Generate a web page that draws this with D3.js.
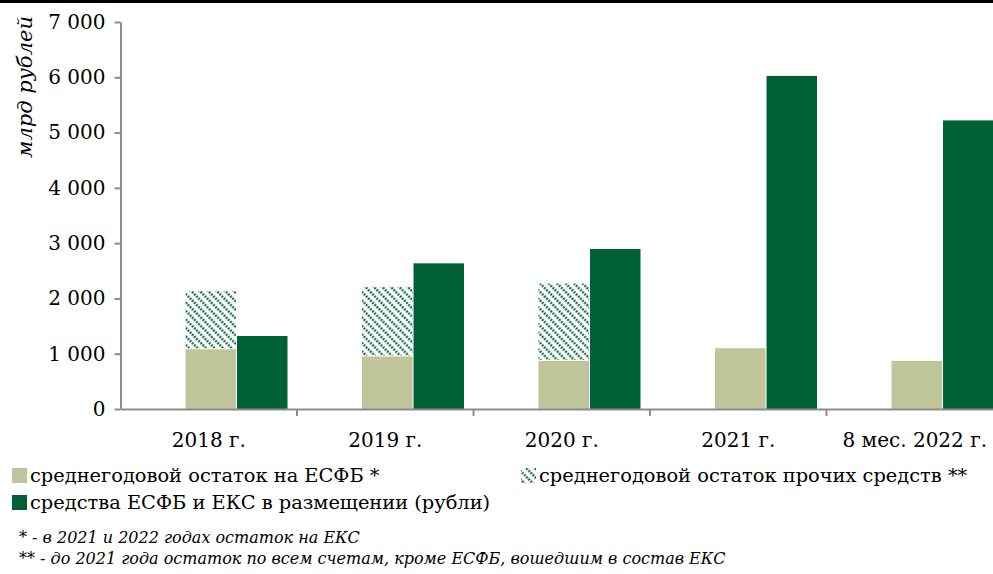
<!DOCTYPE html>
<html>
<head>
<meta charset="utf-8">
<script src="https://cdn.jsdelivr.net/npm/d3@7"></script>
<style>
  body { margin: 0; background: #fff; }
  svg { display: block; font-family: "DejaVu Serif", serif; }
</style>
</head>
<body>
<div id="app"></div>
<script>
// данные
const categories = ["2018 г.", "2019 г.", "2020 г.", "2021 г.", "8 мес. 2022 г."];
const esfbRest = [1080, 950, 870, 1100, 870];        // среднегодовой остаток на ЕСФБ
const otherRest = [1055, 1260, 1400, 0, 0];          // среднегодовой остаток прочих средств
const placement = [1320, 2635, 2895, 6025, 5220];    // средства ЕСФБ и ЕКС в размещении
const yTicks = [0, 1000, 2000, 3000, 4000, 5000, 6000, 7000];

const width = 993, height = 574;
const marginLeft = 120.5, marginTop = 22, marginBottom = 165;
const bandW = 176.5;
const light = "#bfc49b", dark = "#006137", axisCol = "#8c8c8c";

const svg = d3.select("#app").append("svg")
  .attr("width", width).attr("height", height);

// штриховка
const pat = svg.append("defs").append("pattern")
  .attr("id", "hatch")
  .attr("patternUnits", "userSpaceOnUse")
  .attr("width", 6).attr("height", 6)
  .attr("patternTransform", "rotate(-45)");
pat.append("rect").attr("width", 6).attr("height", 6).attr("fill", "#fff");
pat.append("line")
  .attr("x1", 1.5).attr("x2", 1.5).attr("y1", 0).attr("y2", 6)
  .attr("stroke", dark).attr("stroke-width", 2.2)
  .attr("stroke-dasharray", "2 1");

// верхняя линия
svg.append("line")
  .attr("x1", 0).attr("x2", width).attr("y1", 1.5).attr("y2", 1.5)
  .attr("stroke", "#000").attr("stroke-width", 3);

// шкалы
const x = d3.scaleBand()
  .domain(categories)
  .range([marginLeft, marginLeft + bandW * categories.length]);

const xSub = d3.scaleBand()
  .domain(["rest", "place"])
  .range([65, 167])
  .paddingInner(0.02);

const y = d3.scaleLinear()
  .domain([0, 7000])
  .range([height - marginBottom, marginTop]);

const fmt = d3.formatLocale({ decimal: ",", thousands: " ", grouping: [3], currency: ["", ""] }).format(",d");

// столбцы
const rows = categories.map((c, i) => ({ c, a: esfbRest[i], b: otherRest[i], p: placement[i] }));

const g = svg.append("g");
g.selectAll(".a").data(rows).join("rect")
  .attr("x", d => x(d.c) + xSub("rest"))
  .attr("width", xSub.bandwidth())
  .attr("y", d => y(d.a))
  .attr("height", d => y(0) - y(d.a))
  .attr("fill", light);

g.selectAll(".b").data(rows.filter(d => d.b > 0)).join("rect")
  .attr("x", d => x(d.c) + xSub("rest"))
  .attr("width", xSub.bandwidth())
  .attr("y", d => y(d.a + d.b))
  .attr("height", d => y(d.a) - y(d.a + d.b) - 1)
  .attr("fill", "url(#hatch)");

g.selectAll(".p").data(rows).join("rect")
  .attr("x", d => x(d.c) + xSub("place"))
  .attr("width", xSub.bandwidth())
  .attr("y", d => y(d.p))
  .attr("height", d => y(0) - y(d.p))
  .attr("fill", dark);

// ось Y
svg.append("g")
  .attr("transform", `translate(${marginLeft},0)`)
  .call(d3.axisLeft(y).tickValues(yTicks).tickFormat(fmt).tickSize(6).tickPadding(9).tickSizeOuter(0))
  .call(g => g.selectAll("path, line").attr("stroke", axisCol).attr("stroke-width", 2))
  .call(g => g.selectAll("text").attr("font-size", 20).attr("fill", "#000")
    .attr("font-family", "DejaVu Serif"));

// ось X
svg.append("g")
  .attr("transform", `translate(0,${y(0)})`)
  .call(d3.axisBottom(x).tickSize(0).tickPadding(24).tickSizeOuter(0))
  .call(g => g.select(".domain").attr("stroke", axisCol).attr("stroke-width", 2))
  .call(g => g.selectAll("text").attr("font-size", 20).attr("fill", "#000")
    .attr("font-family", "DejaVu Serif"));

svg.append("g").selectAll("line")
  .data(categories.slice(1))
  .join("line")
    .attr("x1", d => x(d)).attr("x2", d => x(d))
    .attr("y1", y(0)).attr("y2", y(0) + 7)
    .attr("stroke", axisCol).attr("stroke-width", 2);

// подпись оси
svg.append("text")
  .attr("transform", `translate(32,${87}) rotate(-90)`)
  .attr("text-anchor", "middle")
  .attr("font-style", "italic")
  .attr("font-size", 21)
  .text("млрд рублей");

// легенда
const legend = [
  { label: "среднегодовой остаток на ЕСФБ *", fill: light, x: 12, y: 482 },
  { label: "среднегодовой остаток прочих средств **", fill: "url(#hatch)", x: 521, y: 482 },
  { label: "средства ЕСФБ и ЕКС в размещении (рубли)", fill: dark, x: 12, y: 509 }
];
const lg = svg.append("g").selectAll("g").data(legend).join("g")
  .attr("transform", d => `translate(${d.x},${d.y})`);
lg.append("rect")
  .attr("x", 0).attr("y", -14).attr("width", 15).attr("height", 15)
  .attr("fill", d => d.fill);
lg.append("text")
  .attr("x", 18).attr("font-size", 19.4)
  .text(d => d.label);

// примечания
const notes = [
  "* - в 2021 и 2022 годах остаток на ЕКС",
  "** - до 2021 года остаток по всем счетам, кроме ЕСФБ, вошедшим в состав ЕКС"
];
svg.append("g").selectAll("text").data(notes).join("text")
  .attr("x", 19)
  .attr("y", (d, i) => 543 + i * 21)
  .attr("font-style", "italic")
  .attr("font-size", 16)
  .text(d => d);
</script>
</body>
</html>
